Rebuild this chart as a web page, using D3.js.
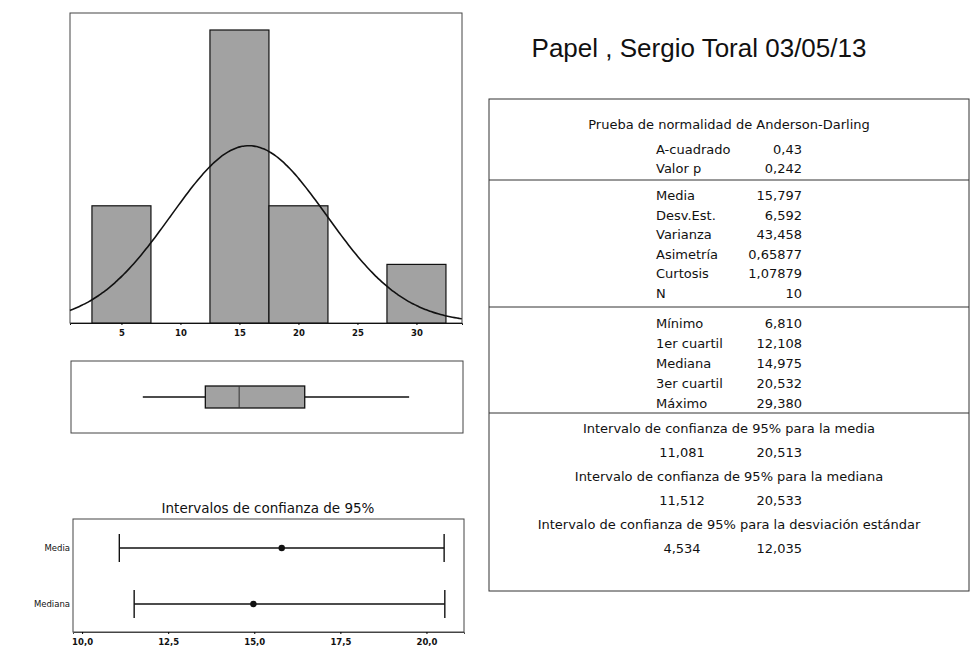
<!DOCTYPE html>
<html>
<head>
<meta charset="utf-8">
<script src="https://cdn.jsdelivr.net/npm/d3@7"></script>
<style>
    body { margin: 0; background: #fff; }
    svg text { font-family: "DejaVu Sans", Tahoma, sans-serif; fill: #111; }
</style>
</head>
<body>
<script>
    // histogram bins (centre, count)
    var binCenters = [5, 10, 15, 20, 25, 30];
    var binCounts = [2, 0, 5, 2, 0, 1];
    var histTicks = [5, 10, 15, 20, 25, 30];

    // summary values
    var mean = 15.797, sd = 6.592, n = 10;
    var boxStats = { min: 6.810, q1: 12.108, median: 14.975, q3: 20.532, max: 29.380 };

    // confidence intervals
    var ciNames = ['Media', 'Mediana'];
    var ciCenter = [15.797, 14.975];
    var ciLow = [11.081, 11.512];
    var ciHigh = [20.513, 20.533];
    var ciTicks = [10, 12.5, 15, 17.5, 20];

    // table text
    var adLabels = ['A-cuadrado', 'Valor p'];
    var adValues = ['0,43', '0,242'];
    var descLabels = ['Media', 'Desv.Est.', 'Varianza', 'Asimetría', 'Curtosis', 'N'];
    var descValues = ['15,797', '6,592', '43,458', '0,65877', '1,07879', '10'];
    var quartLabels = ['Mínimo', '1er cuartil', 'Mediana', '3er cuartil', 'Máximo'];
    var quartValues = ['6,810', '12,108', '14,975', '20,532', '29,380'];
    var ciHeaders = [
        'Intervalo de confianza de 95% para la media',
        'Intervalo de confianza de 95% para la mediana',
        'Intervalo de confianza de 95% para la desviación estándar'
    ];
    var ciTableValues = [['11,081', '20,513'], ['11,512', '20,533'], ['4,534', '12,035']];

    var svg = d3.select('body').append('svg')
        .attr('width', 979)
        .attr('height', 664);

    var binW = 5;

    // ---------- histogram ----------
    var x = d3.scaleLinear().domain([0.64, 33.86]).range([70, 462]);
    var y = d3.scaleLinear().domain([0, 5.29]).range([323, 13]);

    svg.append('rect')
        .attr('x', 70).attr('y', 13)
        .attr('width', 392).attr('height', 310)
        .attr('fill', 'none').attr('stroke', '#444');

    svg.selectAll('rect.bar')
        .data(binCenters.map((c, i) => ({ c: c, n: binCounts[i] })).filter(d => d.n > 0))
        .enter()
        .append('rect')
        .attr('class', 'bar')
        .attr('x', d => x(d.c - binW / 2))
        .attr('y', d => y(d.n))
        .attr('width', d => x(d.c + binW / 2) - x(d.c - binW / 2))
        .attr('height', d => y(0) - y(d.n))
        .attr('fill', '#a2a2a2')
        .attr('stroke', '#111')
        .attr('stroke-width', 1.2);

    var normal = v => n * binW * Math.exp(-0.5 * Math.pow((v - mean) / sd, 2)) / (sd * Math.sqrt(2 * Math.PI));
    var curveX = d3.range(0.64, 33.87, 0.2);
    svg.append('path')
        .datum(curveX)
        .attr('d', d3.line().x(d => x(d)).y(d => y(normal(d))).curve(d3.curveBasis))
        .attr('fill', 'none')
        .attr('stroke', '#111')
        .attr('stroke-width', 1.6);

    var xAxis = svg.append('g')
        .attr('transform', 'translate(0,323)')
        .call(d3.axisBottom(x).tickValues(histTicks).tickSize(2).tickPadding(5).tickFormat(d3.format('d')));
    xAxis.select('.domain').attr('stroke', '#111');
    xAxis.selectAll('text').attr('font-size', 8.5).attr('font-family', 'DejaVu Sans').attr('font-weight', 'bold');

    // ---------- box plot ----------
    svg.append('rect')
        .attr('x', 71).attr('y', 361)
        .attr('width', 392).attr('height', 72)
        .attr('fill', 'none').attr('stroke', '#444');

    var by = 397;
    svg.append('line')
        .attr('x1', x(boxStats.min)).attr('x2', x(boxStats.q1))
        .attr('y1', by).attr('y2', by).attr('stroke', '#111').attr('stroke-width', 1.3);
    svg.append('line')
        .attr('x1', x(boxStats.q3)).attr('x2', x(boxStats.max))
        .attr('y1', by).attr('y2', by).attr('stroke', '#111').attr('stroke-width', 1.3);
    svg.append('rect')
        .attr('x', x(boxStats.q1)).attr('y', 386)
        .attr('width', x(boxStats.q3) - x(boxStats.q1)).attr('height', 22)
        .attr('fill', '#a2a2a2').attr('stroke', '#111').attr('stroke-width', 1.3);
    svg.append('line')
        .attr('x1', x(boxStats.median)).attr('x2', x(boxStats.median))
        .attr('y1', 386).attr('y2', 408).attr('stroke', '#333');

    // ---------- confidence intervals ----------
    svg.append('text')
        .attr('x', 268).attr('y', 513)
        .attr('text-anchor', 'middle')
        .attr('font-size', 13.5)
        .text('Intervalos de confianza de 95%');

    var cx = d3.scaleLinear().domain([9.736, 21.09]).range([73, 464]);
    var cy = d3.scalePoint().domain(ciNames).range([548, 604]);

    svg.append('rect')
        .attr('x', 73).attr('y', 519)
        .attr('width', 391).attr('height', 113)
        .attr('fill', 'none').attr('stroke', '#444');

    var ci = svg.selectAll('g.ci')
        .data(ciNames.map((nm, i) => ({ nm: nm, c: ciCenter[i], lo: ciLow[i], hi: ciHigh[i] })))
        .enter().append('g').attr('class', 'ci');
    ci.append('line')
        .attr('x1', d => cx(d.lo)).attr('x2', d => cx(d.hi))
        .attr('y1', d => cy(d.nm)).attr('y2', d => cy(d.nm))
        .attr('stroke', '#111').attr('stroke-width', 1.4);
    ci.append('line')
        .attr('x1', d => cx(d.lo)).attr('x2', d => cx(d.lo))
        .attr('y1', d => cy(d.nm) - 14).attr('y2', d => cy(d.nm) + 14)
        .attr('stroke', '#111').attr('stroke-width', 1.4);
    ci.append('line')
        .attr('x1', d => cx(d.hi)).attr('x2', d => cx(d.hi))
        .attr('y1', d => cy(d.nm) - 14).attr('y2', d => cy(d.nm) + 14)
        .attr('stroke', '#111').attr('stroke-width', 1.4);
    ci.append('circle')
        .attr('cx', d => cx(d.c)).attr('cy', d => cy(d.nm))
        .attr('r', 3.2).attr('fill', '#111');
    ci.append('text')
        .attr('x', 70).attr('y', d => cy(d.nm) + 3)
        .attr('text-anchor', 'end')
        .attr('font-size', 8.5)
        .text(d => d.nm);

    var cAxis = svg.append('g')
        .attr('transform', 'translate(0,632)')
        .call(d3.axisBottom(cx).tickValues(ciTicks).tickSize(2).tickPadding(5)
            .tickFormat(d => d3.format('.1f')(d).replace('.', ',')));
    cAxis.select('.domain').attr('stroke', '#444');
    cAxis.selectAll('text').attr('font-size', 8.5).attr('font-family', 'DejaVu Sans').attr('font-weight', 'bold');

    // ---------- title ----------
    svg.append('text')
        .attr('x', 699).attr('y', 57)
        .attr('text-anchor', 'middle')
        .attr('font-size', 26)
        .style('font-family', '"Liberation Sans", Arial, sans-serif')
        .text('Papel , Sergio Toral 03/05/13');

    // ---------- summary table ----------
    var tx0 = 489, tx1 = 969, tmid = (tx0 + tx1) / 2;
    svg.append('rect')
        .attr('x', tx0).attr('y', 99)
        .attr('width', tx1 - tx0).attr('height', 492)
        .attr('fill', 'none').attr('stroke', '#333');

    [180, 307, 413].forEach(yy => {
        svg.append('line')
            .attr('x1', tx0).attr('x2', tx1)
            .attr('y1', yy).attr('y2', yy)
            .attr('stroke', '#333');
    });

    var tFont = 13;
    var labelX = 656, valueX = 802;

    svg.append('text')
        .attr('x', tmid).attr('y', 129)
        .attr('text-anchor', 'middle').attr('font-size', tFont)
        .text('Prueba de normalidad de Anderson-Darling');

    function rows(labels, values, y0, step) {
        labels.forEach((lb, i) => {
            svg.append('text')
                .attr('x', labelX).attr('y', y0 + i * step)
                .attr('font-size', tFont).text(lb);
            svg.append('text')
                .attr('x', valueX).attr('y', y0 + i * step)
                .attr('text-anchor', 'end')
                .attr('font-size', tFont).text(values[i]);
        });
    }
    rows(adLabels, adValues, 154, 19.3);
    rows(descLabels, descValues, 200, 19.5);
    rows(quartLabels, quartValues, 328, 20);

    ciHeaders.forEach((h, i) => {
        var yy = 433 + i * 48;
        svg.append('text')
            .attr('x', tmid).attr('y', yy)
            .attr('text-anchor', 'middle').attr('font-size', tFont)
            .text(h);
        svg.append('text')
            .attr('x', 682).attr('y', yy + 24)
            .attr('text-anchor', 'middle').attr('font-size', tFont)
            .text(ciTableValues[i][0]);
        svg.append('text')
            .attr('x', valueX).attr('y', yy + 24)
            .attr('text-anchor', 'end').attr('font-size', tFont)
            .text(ciTableValues[i][1]);
    });
</script>
</body>
</html>
